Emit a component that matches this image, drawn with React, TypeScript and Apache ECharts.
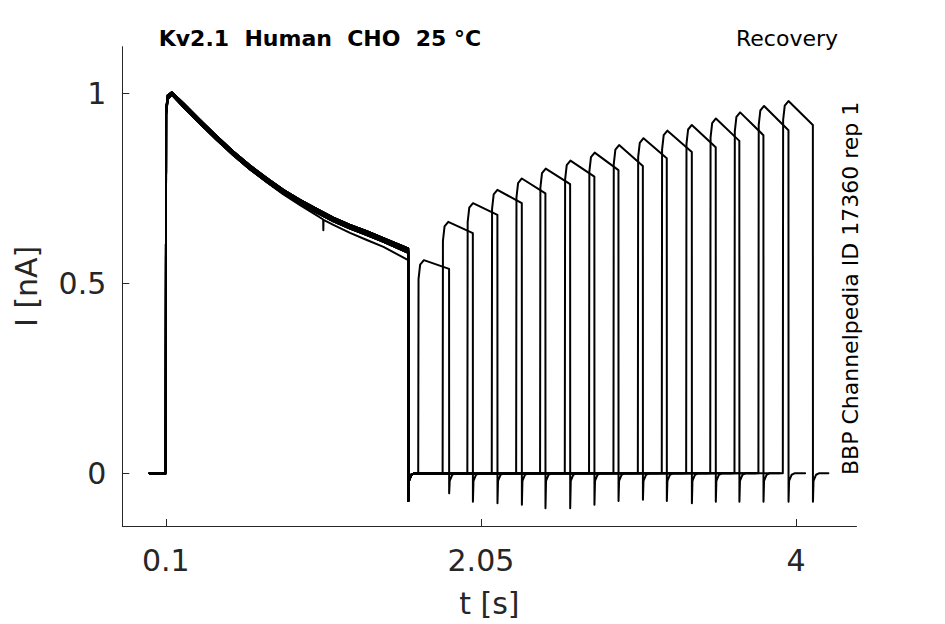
import React, { useEffect, useRef } from "react";
import * as echarts from "echarts";

// ---- axes ----
const xTicks = [0.1, 2.05, 4];
const yTicks = [0, 0.5, 1];
const xRange = [-0.169, 4.374];
const yRange = [-0.139, 1.123];

// ---- first (conditioning) pulse ----
const sweepStartTime = 0;
const firstPulseOnTime = 0.1;
const firstPulseOffTime = 1.6;
const firstPulseTail = -0.073;

const firstPulseTimes = [0.1, 0.102, 0.112, 0.137, 0.209, 0.312, 0.416, 0.518, 0.622, 0.725, 0.828, 0.931, 1.034, 1.137, 1.24, 1.344, 1.447, 1.6];
const firstPulseUpper = [0, 0.955, 0.995, 1.003, 0.974, 0.93, 0.887, 0.847, 0.81, 0.777, 0.746, 0.72, 0.696, 0.673, 0.654, 0.637, 0.619, 0.592];
const firstPulseMid = [0, 0.95, 0.99, 1.0, 0.969, 0.925, 0.882, 0.842, 0.805, 0.772, 0.741, 0.715, 0.691, 0.668, 0.649, 0.632, 0.614, 0.586];
const firstPulseLower = [0, 0.945, 0.985, 0.997, 0.964, 0.92, 0.877, 0.837, 0.8, 0.767, 0.736, 0.71, 0.686, 0.663, 0.644, 0.627, 0.609, 0.58];

const outlierTimes = [0.1, 0.102, 0.112, 0.137, 0.209, 0.312, 0.416, 0.518, 0.622, 0.725, 0.828, 0.931, 1.034, 1.074, 1.075, 1.076, 1.137, 1.24, 1.344, 1.447, 1.6];
const outlierValues = [0, 0.945, 0.985, 0.997, 0.965, 0.921, 0.878, 0.838, 0.8, 0.766, 0.734, 0.706, 0.679, 0.668, 0.64, 0.667, 0.654, 0.633, 0.614, 0.596, 0.561];

// which first-pulse trace each sweep follows (0 upper, 1 mid, 2 lower, 3 outlier)
const firstPulseTrace = [0, 1, 2, 0, 1, 2, 0, 1, 3, 0, 1, 2, 0, 1, 2, 1];

// ---- second (test) pulse of each sweep ----
const riseTimes = [1.662, 1.813, 1.966, 2.117, 2.268, 2.416, 2.569, 2.719, 2.87, 3.021, 3.169, 3.32, 3.469, 3.619, 3.767, 3.918];
const peakValues = [0.561, 0.662, 0.711, 0.746, 0.776, 0.802, 0.823, 0.844, 0.864, 0.882, 0.902, 0.917, 0.934, 0.95, 0.967, 0.98];
const endValues = [0.538, 0.632, 0.68, 0.711, 0.737, 0.761, 0.781, 0.798, 0.809, 0.829, 0.846, 0.858, 0.875, 0.89, 0.903, 0.917];
const fallTimes = [1.853, 2.0, 2.152, 2.303, 2.449, 2.602, 2.752, 2.901, 3.052, 3.2, 3.355, 3.503, 3.649, 3.798, 3.953, 4.104];
const tailValues = [-0.053, -0.075, -0.079, -0.083, -0.092, -0.092, -0.083, -0.073, -0.07, -0.073, -0.079, -0.075, -0.075, -0.075, -0.075, -0.075];
const sweepEndTimes = [1.95, 2.1, 2.25, 2.4, 2.55, 2.7, 2.85, 3.0, 3.15, 3.3, 3.45, 3.6, 3.75, 3.9, 4.056, 4.2];

// shape of the capacitive tail after each step back to rest: [dt, value]
const tailRecoveryShape = [[0.004, -0.02], [0.02, -0.004], [0.04, 0]];
// shape of the onset of the test pulse: [dt, value below peak]
const onsetShape = [[0.002, 0.05], [0.012, 0.012], [0.035, 0]];

function buildSweep(k: number): number[][] {
  const pts: number[][] = [[sweepStartTime, 0]];
  const kind = firstPulseTrace[k];
  const tt = kind === 3 ? outlierTimes : firstPulseTimes;
  const vv = kind === 3 ? outlierValues : kind === 0 ? firstPulseUpper : kind === 1 ? firstPulseMid : firstPulseLower;
  for (let i = 0; i < tt.length; i++) pts.push([tt[i], vv[i]]);
  pts.push([firstPulseOffTime + 0.0005, firstPulseTail]);
  for (const [dt, v] of tailRecoveryShape) pts.push([firstPulseOffTime + dt, v]);
  pts.push([riseTimes[k], 0]);
  for (const [dt, dv] of onsetShape) pts.push([riseTimes[k] + dt, peakValues[k] - dv]);
  pts.push([fallTimes[k], endValues[k]]);
  pts.push([fallTimes[k] + 0.0005, tailValues[k]]);
  for (const [dt, v] of tailRecoveryShape) pts.push([fallTimes[k] + dt, v]);
  pts.push([sweepEndTimes[k], 0]);
  return pts;
}

const AXIS_COLOR = "#262626";
const FONT = "DejaVu Sans";

export default function App() {
  const ref = useRef<HTMLDivElement>(null);
  useEffect(() => {
    if (!ref.current) return;
    const chart = echarts.init(ref.current, null, { renderer: "svg" });
    const series = riseTimes.map((_, k) => ({
      type: "line",
      data: buildSweep(k),
      showSymbol: false,
      symbol: "none",
      silent: true,
      lineStyle: { color: "#000", width: 2, join: "round", cap: "round" },
    }));
    chart.setOption({
      animation: false,
      backgroundColor: "#fff",
      grid: { left: 122.3, right: 88.5, top: 46.7, bottom: 98 },
      xAxis: {
        type: "value",
        min: xRange[0],
        max: xRange[1],
        name: "t [s]",
        nameLocation: "middle",
        nameGap: 62,
        nameTextStyle: { fontFamily: FONT, fontSize: 30, color: AXIS_COLOR },
        axisLine: { show: true, onZero: false, lineStyle: { color: AXIS_COLOR, width: 1 } },
        axisTick: { show: true, inside: true, length: 7, customValues: xTicks, lineStyle: { color: AXIS_COLOR } },
        axisLabel: { customValues: xTicks, fontFamily: FONT, fontSize: 30, color: AXIS_COLOR, margin: 19, formatter: (v: number) => String(v) },
        splitLine: { show: false },
      },
      yAxis: {
        type: "value",
        min: yRange[0],
        max: yRange[1],
        name: "I [nA]",
        nameLocation: "middle",
        nameGap: 81,
        nameTextStyle: { fontFamily: FONT, fontSize: 30, color: AXIS_COLOR },
        axisLine: { show: true, onZero: false, lineStyle: { color: AXIS_COLOR, width: 1 } },
        axisTick: { show: true, inside: true, length: 7, customValues: yTicks, lineStyle: { color: AXIS_COLOR } },
        axisLabel: { customValues: yTicks, fontFamily: FONT, fontSize: 30, color: AXIS_COLOR, margin: 16, formatter: (v: number) => String(v) },
        splitLine: { show: false },
      },
      graphic: [
        {
          type: "text",
          left: 158.7,
          top: 27,
          style: { text: "Kv2.1  Human  CHO  25 °C", fontFamily: FONT, fontSize: 22, fontWeight: "bold", fill: "#000" },
        },
        {
          type: "text",
          x: 787,
          y: 38.5,
          style: { text: "Recovery", fontFamily: FONT, fontSize: 22, fill: "#000", align: "center", verticalAlign: "middle" },
        },
        {
          type: "text",
          x: 850,
          y: 475,
          rotation: Math.PI / 2,
          style: { text: "BBP Channelpedia ID 17360 rep 1", fontFamily: FONT, fontSize: 22, fill: "#000", align: "left", verticalAlign: "middle" },
        },
      ],
      series,
    });
    return () => chart.dispose();
  }, []);
  return <div ref={ref} style={{ position: "absolute", left: 0, top: 0, width: 945, height: 624 }} />;
}
